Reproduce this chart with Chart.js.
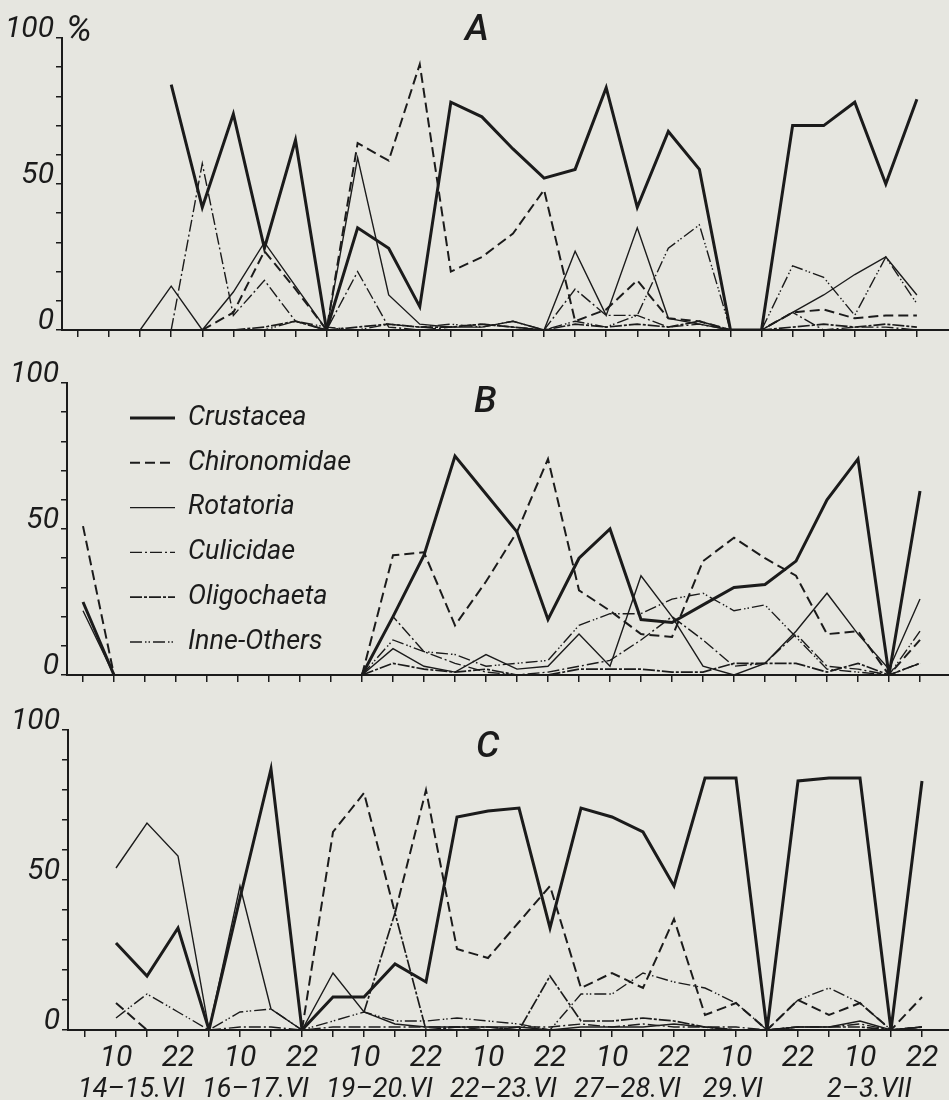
<!DOCTYPE html>
<html>
<head>
<meta charset="utf-8">
<script src="https://cdn.jsdelivr.net/npm/chart.js@4.4.1/dist/chart.umd.min.js"></script>
<style>
  body { margin: 0; background: #e6e6e0; }
  #wrap { position: relative; width: 949px; height: 1100px; }
  canvas { position: absolute; left: 0; }
</style>
</head>
<body>
<div id="wrap">
  <canvas id="chartA" width="949" height="350" style="top:0"></canvas>
  <canvas id="chartB" width="949" height="345" style="top:350px"></canvas>
  <canvas id="chartC" width="949" height="405" style="top:695px"></canvas>
</div>
<script>
var N = null;
var groups = ['Crustacea', 'Chironomidae', 'Rotatoria', 'Culicidae', 'Oligochaeta', 'Inne-Others'];
var hourLabels = ['', '10', '', '22', '', '10', '', '22', '', '10', '', '22', '', '10',
                  '', '22', '', '10', '', '22', '', '10', '', '22', '', '10', '', '22'];
var dates = ['14–15.VI', '16–17.VI', '19–20.VI', '22–23.VI', '27–28.VI', '29.VI', '2–3.VII'];
var dateCenters = [1.5, 5.5, 9.5, 13.5, 17.5, 20.9, 25.3];
var yTicks = [0, 10, 20, 30, 40, 50, 60, 70, 80, 90, 100];

// panel A
var crustaceaA   = [N,N,N,84,42,74,28,65,0,35,28,8,78,73,62,52,55,83,42,68,55,0,0,70,70,78,50,79];
var chironomidaeA = [N,N,N,N,0,6,27,14,0,64,58,91,20,25,33,48,3,7,17,4,3,0,0,6,7,4,5,5];
var rotatoriaA   = [N,N,0,15,0,13,30,15,0,59,12,2,1,1,3,0,27,5,35,4,2,0,0,6,12,19,25,12];
var culicidaeA   = [N,N,N,0,57,5,17,3,0,20,1,0,1,2,1,0,14,5,5,1,2,0,0,6,0,1,1,0];
var oligochaetaA = [N,N,N,N,N,0,1,3,0,1,2,1,1,2,1,0,2,1,2,1,3,0,0,1,2,1,2,1];
var othersA      = [N,N,N,N,N,0,0,3,1,0,2,1,2,1,3,0,3,1,5,28,36,0,0,22,18,5,25,9];

// panel B
var crustaceaB   = [25,0,N,N,N,N,N,N,N,0,20,41,75,62,49,19,40,50,19,18,24,30,31,39,60,74,0,63];
var chironomidaeB = [51,0,N,N,N,N,N,N,N,0,41,42,17,32,49,74,29,22,14,13,39,47,40,34,14,15,0,12];
var rotatoriaB   = [22,0,N,N,N,N,N,N,N,0,9,3,1,7,2,3,14,3,34,20,3,0,4,15,28,14,2,26];
var culicidaeB   = [N,N,N,N,N,N,N,N,N,0,20,8,4,1,0,1,3,5,12,20,12,3,4,14,3,2,0,4];
var oligochaetaB = [N,N,N,N,N,N,N,N,N,0,4,2,1,2,0,0,2,2,2,1,1,4,4,4,1,4,0,4];
var othersB      = [N,N,N,N,N,N,N,N,N,0,12,8,7,3,4,5,17,21,21,26,28,22,24,13,2,1,0,15];

// panel C
var crustaceaC   = [N,29,18,34,0,44,87,0,11,11,22,16,71,73,74,34,74,71,66,48,84,84,0,83,84,84,0,83];
var chironomidaeC = [N,9,0,N,N,N,N,0,66,79,39,80,27,24,36,48,14,19,14,37,5,9,0,10,5,9,0,11];
var rotatoriaC   = [N,54,69,58,0,48,7,0,19,6,2,1,1,1,1,0,1,1,1,2,1,0,0,1,1,3,0,1];
var culicidaeC   = [N,N,N,N,0,1,1,0,1,1,1,1,1,0,1,1,2,1,2,1,1,1,0,1,1,2,0,1];
var oligochaetaC = [N,N,N,N,N,N,N,N,N,6,39,0,1,1,0,18,3,3,4,3,1,0,0,1,1,1,0,1];
var othersC      = [N,4,12,6,0,6,7,0,3,6,3,3,4,3,2,0,12,12,19,16,14,9,0,10,14,9,0,1];

var INK = '#1b1b1b';
var FONT = "Roboto, 'Liberation Sans', sans-serif";

// line look of each group, same order as groups
var lineStyles = [
  { w: 3,   dash: [] },
  { w: 2,   dash: [10, 5] },
  { w: 1.4, dash: [] },
  { w: 1.4, dash: [12, 3, 2, 3] },
  { w: 1.7, dash: [12, 2, 3, 2] },
  { w: 1.4, dash: [12, 3, 1.5, 2, 1.5, 3] }
];

var panelText = {
  id: 'panelText',
  afterDraw: function(chart, args, opts) {
    var ctx = chart.ctx;
    ctx.save();
    ctx.fillStyle = INK;
    ctx.strokeStyle = INK;
    ctx.textBaseline = 'alphabetic';
    ctx.font = 'italic 500 37px ' + FONT;
    ctx.fillText(opts.letter, opts.lx, opts.ly);
    if (opts.unit) {
      ctx.font = 'italic 36px ' + FONT;
      ctx.fillText(opts.unit, opts.ux, opts.uy);
    }
    if (opts.legend) {
      ctx.font = 'italic 27px ' + FONT;
      ctx.textBaseline = 'middle';
      chart.data.datasets.forEach(function(ds, i) {
        var y = opts.legendTop + i * opts.legendStep;
        ctx.lineWidth = ds.borderWidth;
        ctx.setLineDash(ds.borderDash);
        ctx.beginPath();
        ctx.moveTo(opts.legendX, y);
        ctx.lineTo(opts.legendX + 45, y);
        ctx.stroke();
        ctx.setLineDash([]);
        ctx.fillText(ds.label, opts.legendX + 58, y);
      });
    }
    ctx.restore();
  }
};

function makeChart(id, series, p) {
  var xmin = -(p.firstTick - p.left) / p.step;
  var xmax = (949 - p.firstTick) / p.step;
  var scales = {
    x: {
      type: 'linear', min: xmin, max: xmax, weight: 1,
      afterBuildTicks: function(s) { s.ticks = hourLabels.map(function(l, i) { return { value: i }; }); },
      afterFit: function(s) { s.height = p.xHeight; },
      ticks: {
        autoSkip: false, maxRotation: 0, padding: 3, color: INK,
        font: { family: FONT, size: 30, style: 'italic' },
        callback: function(v) { return p.showHours ? hourLabels[v] : ''; }
      },
      grid: { drawOnChartArea: false, tickLength: 7, color: INK, lineWidth: 1.5 },
      border: { color: INK, width: 2 }
    },
    y: {
      min: 0, max: 100,
      afterBuildTicks: function(s) { s.ticks = yTicks.map(function(v) { return { value: v }; }); },
      afterFit: function(s) { s.width = p.left; },
      ticks: {
        autoSkip: false, padding: 2, color: INK,
        font: { family: FONT, size: 30, style: 'italic', lineHeight: 0.6 },
        callback: function(v) { return (v === 0 || v === 50 || v === 100) ? [String(v), ''] : ''; }
      },
      grid: { drawOnChartArea: false, tickLength: 6, color: INK, lineWidth: 1.5 },
      border: { color: INK, width: 2 }
    }
  };
  if (p.showHours) {
    scales.x2 = {
      type: 'linear', position: 'bottom', min: xmin, max: xmax, weight: 2,
      afterBuildTicks: function(s) { s.ticks = dateCenters.map(function(v) { return { value: v }; }); },
      afterFit: function(s) { s.height = p.x2Height; },
      ticks: {
        autoSkip: false, maxRotation: 0, padding: 8, color: INK,
        font: { family: FONT, size: 27, style: 'italic' },
        callback: function(v, i) { return dates[i]; }
      },
      grid: { display: false, drawTicks: false },
      border: { display: false }
    };
  }
  return new Chart(document.getElementById(id), {
    type: 'line',
    data: {
      datasets: series.map(function(arr, k) {
        return {
          label: groups[k],
          data: arr.map(function(v, i) { return { x: i, y: v }; }),
          borderColor: INK,
          borderWidth: lineStyles[k].w,
          borderDash: lineStyles[k].dash,
          pointRadius: 0,
          fill: false,
          tension: 0,
          spanGaps: false
        };
      })
    },
    options: {
      responsive: false,
      animation: false,
      layout: { padding: { top: p.top, left: 0, right: 0, bottom: 0 } },
      plugins: {
        legend: { display: false },
        tooltip: { enabled: false },
        panelText: p.text
      },
      scales: scales
    },
    plugins: [panelText]
  });
}

makeChart('chartA', [crustaceaA, chironomidaeA, rotatoriaA, culicidaeA, oligochaetaA, othersA], {
  left: 62, firstTick: 78, step: 31.07, top: 38, xHeight: 15, showHours: false,
  text: { letter: 'A', lx: 465, ly: 40, unit: '%', ux: 66, uy: 41 }
});
makeChart('chartB', [crustaceaB, chironomidaeB, rotatoriaB, culicidaeB, oligochaetaB, othersB], {
  left: 67, firstTick: 83, step: 31.0, top: 33, xHeight: 12, showHours: false,
  text: { letter: 'B', lx: 474, ly: 62, legend: true, legendX: 130, legendTop: 68, legendStep: 44.8 }
});
makeChart('chartC', [crustaceaC, chironomidaeC, rotatoriaC, culicidaeC, oligochaetaC, othersC], {
  left: 68, firstTick: 85, step: 31.0, top: 35, xHeight: 36, x2Height: 34, showHours: true,
  text: { letter: 'C', lx: 476, ly: 62 }
});
</script>
</body>
</html>
